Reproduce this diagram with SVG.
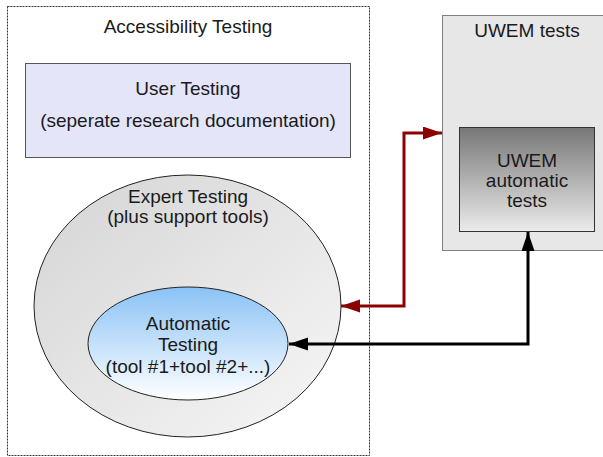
<svg xmlns="http://www.w3.org/2000/svg" width="603" height="457" viewBox="0 0 603 457">
<defs>
<style>
text{font-family:"Liberation Sans",Arial,sans-serif;font-size:19px;fill:#1a1a1a;text-anchor:middle}
.conn{fill:none;stroke-width:3;stroke-linejoin:miter}
</style>
<linearGradient id="gGray" x1="0" y1="0" x2="1" y2="1">
<stop offset="0" stop-color="#d4d4d4"/>
<stop offset="1" stop-color="#f7f7f7"/>
</linearGradient>
<linearGradient id="gBlue" x1="0" y1="0" x2="0" y2="1">
<stop offset="0" stop-color="#8ac2f6"/>
<stop offset="1" stop-color="#ffffff"/>
</linearGradient>
<linearGradient id="gDark" x1="0" y1="0" x2="0" y2="1">
<stop offset="0" stop-color="#777777"/>
<stop offset="1" stop-color="#ebebeb"/>
</linearGradient>
<marker id="aRed" markerUnits="userSpaceOnUse" markerWidth="20" markerHeight="14" refX="19" refY="6.5" orient="auto-start-reverse">
<path d="M0,0 L19,6.5 L0,13 z" fill="#8b0000"/>
</marker>
<marker id="aBlack" markerUnits="userSpaceOnUse" markerWidth="20" markerHeight="14" refX="19" refY="6.5" orient="auto-start-reverse">
<path d="M0,0 L19,6.5 L0,13 z" fill="#000"/>
</marker>
</defs>
<rect width="603" height="457" fill="#fff"/>

<g id="accessibility-testing">
<rect x="7.5" y="6.5" width="362" height="449" fill="none" stroke="#333" stroke-width="1" stroke-dasharray="2,1"/>
<text x="188" y="33">Accessibility Testing</text>
</g>

<g id="user-testing">
<rect x="25.5" y="63.5" width="325" height="94" fill="#e5e5fa" stroke="#555" stroke-width="1"/>
<text x="188" y="95">User Testing</text>
<text x="188" y="127">(seperate research documentation)</text>
</g>

<g id="expert-testing">
<ellipse cx="187.5" cy="306" rx="153.5" ry="131" fill="url(#gGray)" stroke="#222" stroke-width="1"/>
<text x="188" y="203">Expert Testing</text>
<text x="188" y="223">(plus support tools)</text>
</g>

<g id="automatic-testing">
<ellipse cx="188" cy="343.5" rx="100" ry="56.5" fill="url(#gBlue)" stroke="#222" stroke-width="1"/>
<text x="188" y="330">Automatic</text>
<text x="188" y="351">Testing</text>
<text x="188" y="373">(tool #1+tool #2+...)</text>
</g>

<g id="uwem-tests">
<rect x="442.5" y="15.5" width="165" height="235" fill="#e7e7e7" stroke="#808080" stroke-width="1"/>
<text x="527" y="37">UWEM tests</text>
</g>

<g id="uwem-automatic-tests">
<rect x="459.5" y="127.5" width="135" height="104" fill="url(#gDark)" stroke="#333" stroke-width="1"/>
<text x="527" y="167">UWEM</text>
<text x="527" y="187">automatic</text>
<text x="527" y="207">tests</text>
</g>

<g id="connectors">
<path class="conn" d="M341,306 L404,306 L404,133 L442,133" stroke="#8b0000" marker-start="url(#aRed)" marker-end="url(#aRed)"/>
<path class="conn" d="M528,232 L528,344 L289,344" stroke="#000" marker-start="url(#aBlack)" marker-end="url(#aBlack)"/>
</g>
</svg>
